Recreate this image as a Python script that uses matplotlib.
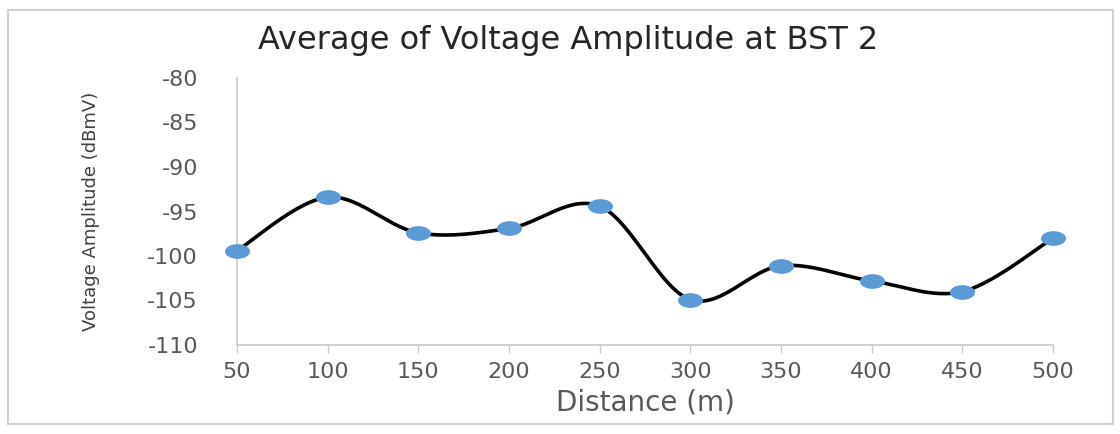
import numpy as np
import matplotlib
matplotlib.use("Agg")
import matplotlib.pyplot as plt
from matplotlib.path import Path
from matplotlib.transforms import Affine2D
from matplotlib.patches import Rectangle

plt.rcParams["axes.unicode_minus"] = False

distance = [50, 100, 150, 200, 250, 300, 350, 400, 450, 500]
amplitude = [-99.4, -93.4, -97.4, -96.9, -94.4, -104.9, -101.1, -102.8, -104.0, -98.0]
y_ticks = [-80, -85, -90, -95, -100, -105, -110]


def smooth_curve(xs, ys, n=30):
    """Excel-like smoothed line: cubic bezier with catmull-rom control points"""
    pts = np.column_stack([xs, ys]).astype(float)
    out = []
    for i in range(len(pts) - 1):
        p0 = pts[i - 1] if i > 0 else pts[i]
        p1 = pts[i]
        p2 = pts[i + 1]
        p3 = pts[i + 2] if i + 2 < len(pts) else pts[i + 1]
        c1 = p1 + (p2 - p0) / 6.0
        c2 = p2 - (p3 - p1) / 6.0
        t = np.linspace(0, 1, n)[:, None]
        seg = ((1 - t) ** 3) * p1 + 3 * ((1 - t) ** 2) * t * c1 + 3 * (1 - t) * t ** 2 * c2 + t ** 3 * p2
        out.append(seg if i == 0 else seg[1:])
    seg = np.vstack(out)
    return seg[:, 0], seg[:, 1]


fig = plt.figure(figsize=(11.2, 4.34), dpi=100)
fig.patches.append(Rectangle((8 / 1120, 1 - 424 / 434), 1105 / 1120, 414 / 434,
                             transform=fig.transFigure, fill=False,
                             edgecolor="#d0d0d0", linewidth=1.5))

ax = fig.add_axes([237 / 1120, 1 - 345 / 434, 816 / 1120, 267 / 434])

sx, sy = smooth_curve(distance, amplitude)
ax.plot(sx, sy, color="black", linewidth=2.6, zorder=2, clip_on=False)

ellipse = Path.unit_circle().transformed(Affine2D().scale(1.7, 1.0))
ax.plot(distance, amplitude, linestyle="none", marker=ellipse, markersize=18,
        color="#5b9bd5", markeredgewidth=0, zorder=3, clip_on=False)

ax.set_xlim(50, 500)
ax.set_ylim(-110, -80)
ax.set_xticks(distance)
ax.set_yticks(y_ticks)
ax.set_xticklabels([str(d) for d in distance])

for side in ["top", "right"]:
    ax.spines[side].set_visible(False)
ax.spines["left"].set_color("#c8c8c8")
ax.spines["bottom"].set_color("#c8c8c8")
ax.spines["left"].set_linewidth(1.2)
ax.spines["bottom"].set_linewidth(1.2)

ax.tick_params(axis="x", direction="out", length=6, width=1, color="#c8c8c8",
               labelsize=16, labelcolor="#595959", pad=6)
ax.tick_params(axis="y", length=0, labelsize=16, labelcolor="#595959", pad=28)

ax.set_xlabel("Distance (m)", fontsize=20, color="#595959", labelpad=5)
ax.set_ylabel("Voltage Amplitude (dBmV)", fontsize=13, color="#404040")
ax.yaxis.set_label_coords(-0.168, 0.5)
fig.text(568 / 1120, 1 - 40 / 434, "Average of Voltage Amplitude at BST 2",
         fontsize=23, color="#262626", ha="center", va="center")

fig.savefig("out.png", dpi=100, facecolor="white")
